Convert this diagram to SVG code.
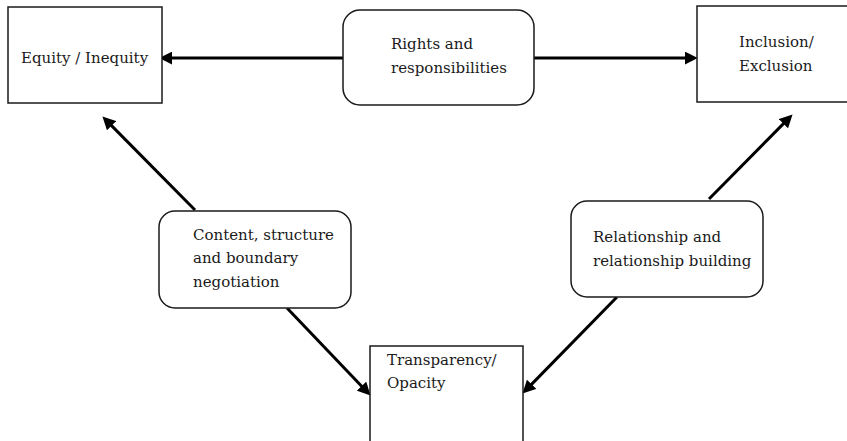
<svg xmlns="http://www.w3.org/2000/svg" width="847" height="441" viewBox="0 0 847 441">
<style>
.box{fill:#fff;stroke:#1a1a1a;stroke-width:1.5}
.lbl{font-family:"DejaVu Serif","Liberation Serif",serif;font-size:15px;fill:#1a1a1a}
.conn{stroke:#000;stroke-width:3;fill:none;marker-end:url(#ah)}
</style>
<defs>
<marker id="ah" markerUnits="userSpaceOnUse" markerWidth="13" markerHeight="13" viewBox="0 0 12 12" refX="3" refY="6" orient="auto">
<path d="M0,0 L12,6 L0,12 z" fill="#000"/>
</marker>
</defs>
<rect width="847" height="441" fill="#fff"/>
<g id="connectors">
<line class="conn" x1="343" y1="58" x2="169" y2="58"/>
<line class="conn" x1="534" y1="58" x2="688" y2="58"/>
<line class="conn" x1="195" y1="210" x2="109.3" y2="123.4"/>
<line class="conn" x1="287" y1="308" x2="363.8" y2="388.5"/>
<line class="conn" x1="709" y1="199" x2="785.7" y2="121.4"/>
<line class="conn" x1="617" y1="297" x2="529.3" y2="386.6"/>
</g>
<g id="equity">
<rect class="box" x="8" y="7" width="154" height="96"/>
<text class="lbl" x="21" y="63">Equity / Inequity</text>
</g>
<g id="rights">
<rect class="box" x="343" y="10" width="191" height="95" rx="17"/>
<text class="lbl" x="391" y="49">Rights and</text>
<text class="lbl" x="391" y="73">responsibilities</text>
</g>
<g id="inclusion">
<rect class="box" x="697" y="6" width="160" height="96"/>
<text class="lbl" x="739" y="47">Inclusion/</text>
<text class="lbl" x="739" y="71">Exclusion</text>
</g>
<g id="content">
<rect class="box" x="159" y="211" width="192" height="97" rx="16"/>
<text class="lbl" x="193" y="240">Content, structure</text>
<text class="lbl" x="193" y="263">and boundary</text>
<text class="lbl" x="193" y="287">negotiation</text>
</g>
<g id="relationship">
<rect class="box" x="571" y="201" width="192" height="96" rx="16"/>
<text class="lbl" x="593" y="242">Relationship and</text>
<text class="lbl" x="593" y="266">relationship building</text>
</g>
<g id="transparency">
<rect class="box" x="370" y="346" width="153" height="110"/>
<text class="lbl" x="387" y="365">Transparency/</text>
<text class="lbl" x="387" y="388">Opacity</text>
</g>
</svg>
